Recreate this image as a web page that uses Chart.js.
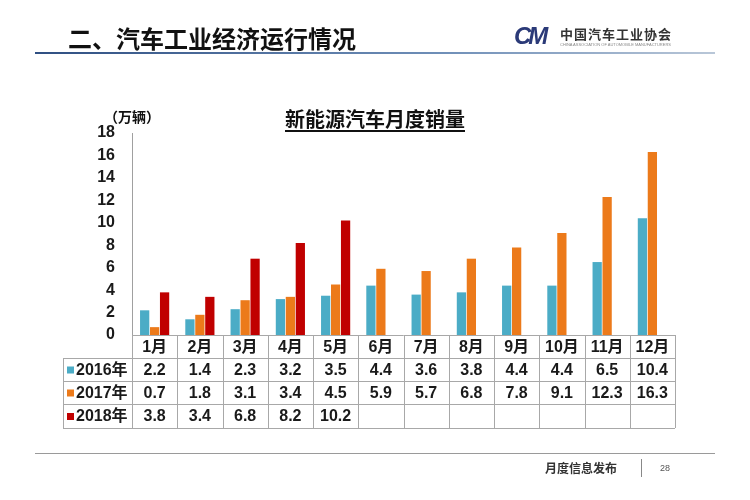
<!DOCTYPE html>
<html>
<head>
<meta charset="utf-8">
<script src="https://cdn.jsdelivr.net/npm/chart.js@4"></script>
<style>
  html, body { margin: 0; padding: 0; background: #fff; }
  #wrap { position: relative; width: 750px; height: 500px; overflow: hidden; font-family: "Liberation Sans", "Noto Sans CJK SC", sans-serif; }
  #wrap canvas { position: absolute; left: 0; top: 0; }
  .abs { position: absolute; white-space: nowrap; }
  #head { left: 68px; top: 20px; font: bold 24px "Noto Sans CJK SC", sans-serif; color: #111; letter-spacing: 0px; }
  #headline { left: 35px; top: 52px; width: 680px; height: 2px; background: linear-gradient(to right, #2f4f82, #6f8fb8 60%, #b9c7d8); }
  #logo { left: 514px; top: 22px; font: italic bold 24px "Liberation Sans", sans-serif; color: #2b3a78; letter-spacing: -3px; }
  #org { left: 560px; top: 24px; font: bold 13px "Noto Sans CJK SC", sans-serif; color: #333; letter-spacing: 1px; }
  #orgen { left: 560px; top: 42px; font: 4px "Liberation Sans", sans-serif; color: #888; }
  #title { left: 0; width: 750px; text-align: center; top: 104px; font: bold 20px "Noto Sans CJK SC", sans-serif; color: #111; text-decoration: underline; text-underline-offset: 3px; }
  #unit { left: 104px; top: 106px; font: bold 14px "Noto Sans CJK SC", sans-serif; color: #111; }
  #footline { left: 35px; top: 453px; width: 680px; height: 1px; background: #9a9a9a; }
  #foot { left: 545px; top: 459px; font: bold 12px "Noto Sans CJK SC", sans-serif; color: #333; }
  #sep { left: 641px; top: 459px; width: 1px; height: 18px; background: #888; }
  #page { left: 660px; top: 463px; font: 9px "Liberation Sans", sans-serif; color: #555; }
</style>
</head>
<body>
<div id="wrap">
  <canvas id="chart" width="750" height="500"></canvas>
  <div class="abs" id="head">二、汽车工业经济运行情况</div>
  <div class="abs" id="headline"></div>
  <div class="abs" id="logo">CM</div>
  <div class="abs" id="org">中国汽车工业协会</div>
  <div class="abs" id="orgen">CHINA ASSOCIATION OF AUTOMOBILE MANUFACTURERS</div>
  <div class="abs" id="title">新能源汽车月度销量</div>
  <div class="abs" id="unit">（万辆）</div>
  <div class="abs" id="footline"></div>
  <div class="abs" id="foot">月度信息发布</div>
  <div class="abs" id="sep"></div>
  <div class="abs" id="page">28</div>
</div>
<script>
// 月份
const months = ["1月", "2月", "3月", "4月", "5月", "6月", "7月", "8月", "9月", "10月", "11月", "12月"];

// 各年销量（万辆）
const series2016 = [2.2, 1.4, 2.3, 3.2, 3.5, 4.4, 3.6, 3.8, 4.4, 4.4, 6.5, 10.4];
const series2017 = [0.7, 1.8, 3.1, 3.4, 4.5, 5.9, 5.7, 6.8, 7.8, 9.1, 12.3, 16.3];
const series2018 = [3.8, 3.4, 6.8, 8.2, 10.2, null, null, null, null, null, null, null];

const seriesNames = ["2016年", "2017年", "2018年"];
const yTicks = [0, 2, 4, 6, 8, 10, 12, 14, 16, 18];

const colors = ["#4BACC6", "#EC7A1A", "#C00000"];
const lineColor = "#a8a8a8";
const textFont = "bold 16px 'Liberation Sans', 'Noto Sans CJK SC', sans-serif";

// 数据表（画在坐标轴下面）
const tablePlugin = {
  id: "dataTable",
  afterDraw(chart) {
    const ctx = chart.ctx;
    const x = chart.scales.x;
    const area = chart.chartArea;
    const colW = (area.right - area.left) / months.length;
    const rows = [area.bottom, area.bottom + 23, area.bottom + 46, area.bottom + 69, area.bottom + 93];
    const tableLeft = 63;
    const allSeries = [series2016, series2017, series2018];

    ctx.save();
    ctx.strokeStyle = lineColor;
    ctx.lineWidth = 1;

    // 横线
    for (let r = 1; r < rows.length; r++) {
      ctx.beginPath();
      ctx.moveTo(tableLeft, rows[r] + 0.5);
      ctx.lineTo(area.right, rows[r] + 0.5);
      ctx.stroke();
    }
    ctx.beginPath();
    ctx.moveTo(area.left, area.bottom + 0.5);
    ctx.lineTo(area.right, area.bottom + 0.5);
    ctx.stroke();

    // 竖线
    for (let i = 0; i <= months.length; i++) {
      const px = Math.round(area.left + i * colW) + 0.5;
      ctx.beginPath();
      ctx.moveTo(px, rows[0]);
      ctx.lineTo(px, rows[rows.length - 1]);
      ctx.stroke();
    }
    ctx.beginPath();
    ctx.moveTo(tableLeft + 0.5, rows[1]);
    ctx.lineTo(tableLeft + 0.5, rows[rows.length - 1]);
    ctx.stroke();

    ctx.fillStyle = "#1a1a1a";
    ctx.font = textFont;
    ctx.textAlign = "center";
    ctx.textBaseline = "middle";

    // 表头
    months.forEach((m, i) => {
      ctx.fillText(m, x.getPixelForValue(i), (rows[0] + rows[1]) / 2 + 1);
    });

    // 每一行
    allSeries.forEach((s, r) => {
      const cy = (rows[r + 1] + rows[r + 2]) / 2 + 1;
      ctx.fillStyle = colors[r];
      ctx.fillRect(tableLeft + 4, cy - 4, 7, 7);
      ctx.fillStyle = "#1a1a1a";
      ctx.textAlign = "left";
      ctx.fillText(seriesNames[r], tableLeft + 13, cy);
      ctx.textAlign = "center";
      s.forEach((v, i) => {
        if (v == null) return;
        ctx.fillText(v.toFixed(1), x.getPixelForValue(i), cy);
      });
    });
    ctx.restore();
  }
};

const ctx = document.getElementById("chart").getContext("2d");
new Chart(ctx, {
  type: "bar",
  data: {
    labels: months,
    datasets: [
      { label: seriesNames[0], data: series2016, backgroundColor: colors[0] },
      { label: seriesNames[1], data: series2017, backgroundColor: colors[1] },
      { label: seriesNames[2], data: series2018, backgroundColor: colors[2] }
    ]
  },
  options: {
    responsive: false,
    animation: false,
    layout: { padding: { left: 0, right: 75, top: 133, bottom: 165 } },
    datasets: { bar: { categoryPercentage: 0.66, barPercentage: 0.93 } },
    plugins: {
      legend: { display: false },
      tooltip: { enabled: false },
      title: { display: false }
    },
    scales: {
      x: { display: false },
      y: {
        min: 0,
        max: 18,
        afterBuildTicks: s => { s.ticks = yTicks.map(v => ({ value: v })); },
        afterFit: s => { s.width = 132; },
        grid: { display: false, drawTicks: false },
        border: { display: true, color: "#a0a0a0", width: 1 },
        ticks: {
          padding: 17,
          color: "#1a1a1a",
          font: { family: "'Liberation Sans', sans-serif", size: 16, weight: "bold" }
        }
      }
    }
  },
  plugins: [tablePlugin]
});
</script>
</body>
</html>
